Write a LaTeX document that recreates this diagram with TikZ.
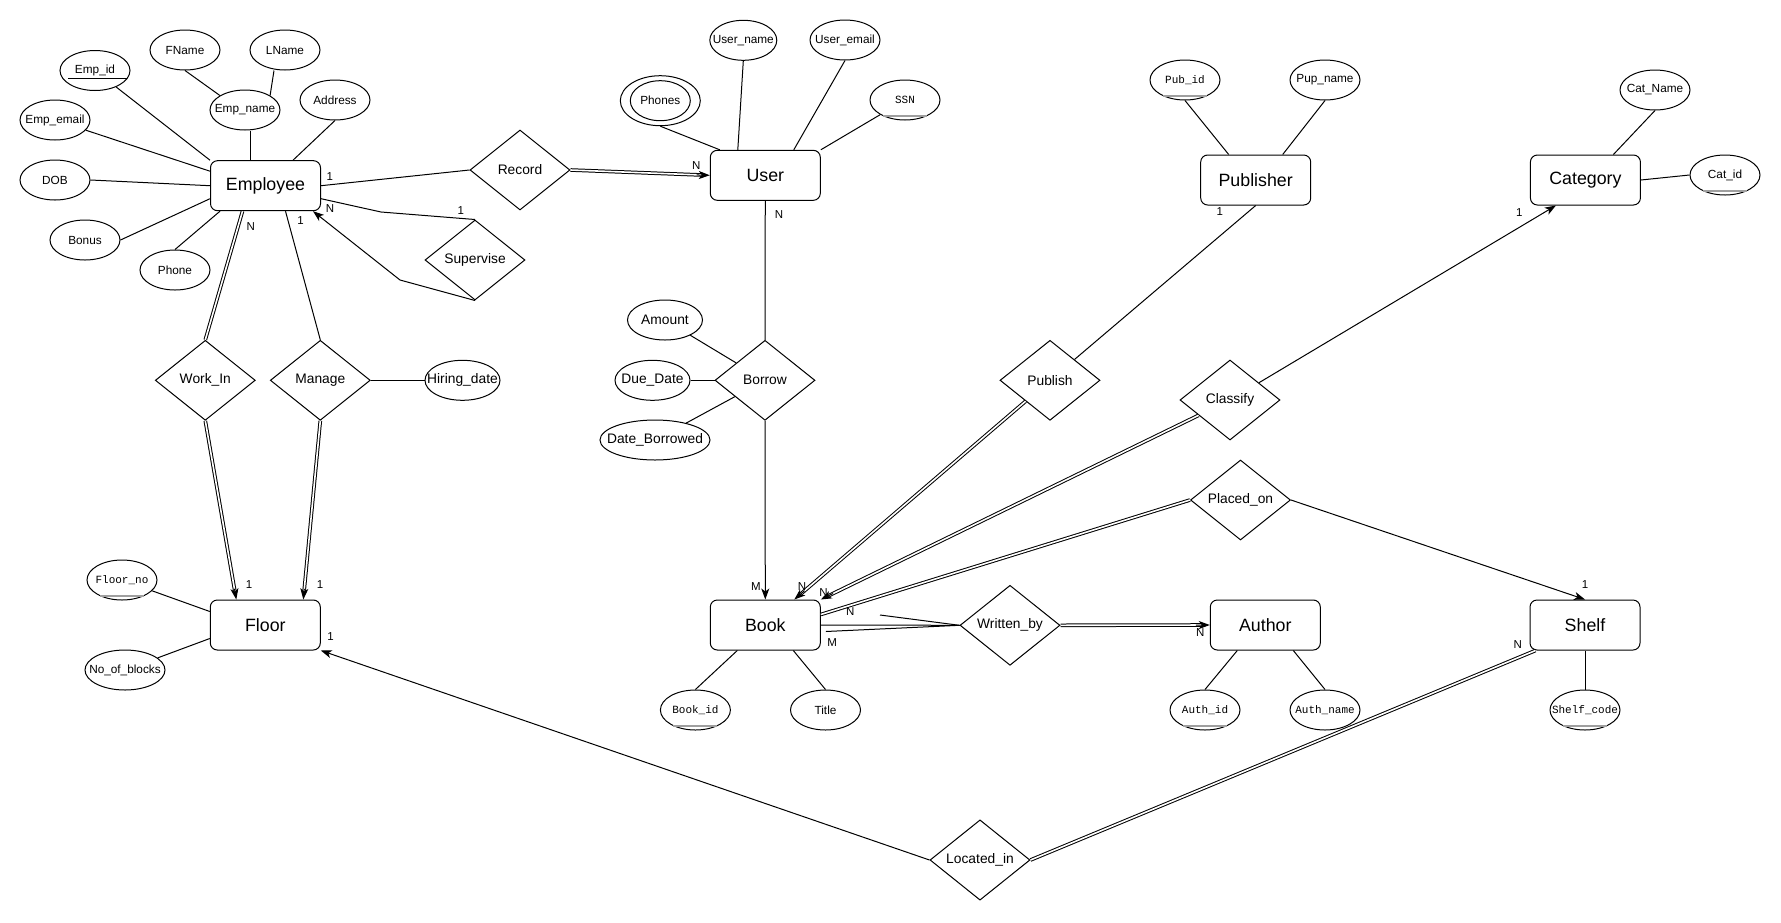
\documentclass[tikz,border=0pt]{standalone}
\usepackage{fontspec}
\setmainfont{Liberation Sans}
\setmonofont{Liberation Mono}
\usetikzlibrary{shapes.geometric, arrows.meta, calc}

\tikzstyle{entity} = [rectangle, rounded corners=7pt, minimum width=110pt, minimum height=50pt, text centered, draw=black, font=\fontsize{17.8}{20}\selectfont]
\tikzstyle{relation} = [diamond, minimum width=100pt, minimum height=80pt, inner sep=0pt, text centered, draw=black, font=\fontsize{13.8}{16}\selectfont]
\tikzstyle{attr} = [ellipse, minimum width=70pt, minimum height=40pt, inner sep=-10pt, text centered, draw=black, font=\fontsize{11.8}{14}\selectfont]
\tikzstyle{bigattr} = [attr, font=\fontsize{13.8}{16}\selectfont]
\tikzstyle{keyattr} = [attr, font=\fontsize{11}{13}\ttfamily]
\tikzstyle{keyline} = [draw=gray!75, line width=2pt]
\tikzstyle{card} = [inner sep=1pt, font=\fontsize{11.5}{13}\selectfont]
\tikzstyle{arrow} = [->, >={Stealth[length=11pt, width=8pt, inset=3pt]}]
\tikzstyle{dbl} = [double, double distance=1.6pt]
\tikzstyle{dblhead} = [dbl, shorten >=8pt]

\begin{document}
\begin{tikzpicture}[x=1pt, y=-1pt, line width=1pt]
\path[use as bounding box, fill=white] (0,0) rectangle (1781,922);

\node (emp) [entity] at (265.5,185.7) {Employee};
\node (user) [entity] at (765.3,175.3) {User};
\node (pub) [entity] at (1255.7,180) {Publisher};
\node (cat) [entity] at (1585.4,180) {Category};
\node (floor) [entity] at (265.3,625) {Floor};
\node (book) [entity] at (765.3,625) {Book};
\node (author) [entity] at (1265.3,625) {Author};
\node (shelf) [entity] at (1585,625) {Shelf};

\node (record) [relation] at (520,170) {Record};
\node (supervise) [relation] at (475,260) {Supervise};
\node (workin) [relation] at (205.3,380.3) {Work\_In};
\node (manage) [relation] at (320.3,380.3) {Manage};
\node (borrow) [relation] at (765,380.3) {Borrow};
\node (publish) [relation] at (1050,380.3) {Publish};
\node (classify) [relation] at (1230,400) {Classify};
\node (placed) [relation] at (1240.5,500) {Placed\_on};
\node (written) [relation] at (1010,625.3) {Written\_by};
\node (located) [relation] at (980,860) {Located\_in};

\node (empid) [attr] at (95,70.5) {Emp\_id};
\node (fname) [attr] at (185,50) {FName};
\node (lname) [attr] at (285,50) {LName};
\node (empname) [attr] at (245,110) {Emp\_name};
\node (address) [attr] at (335,100) {Address};
\node (empemail) [attr] at (55,120) {Emp\_email};
\node (dob) [attr] at (55,180) {DOB};
\node (bonus) [attr] at (85,240) {Bonus};
\node (phone) [attr] at (175,270) {Phone};
\node (hiring) [bigattr, minimum width=75pt] at (462.5,380.3) {Hiring\_date};
\node (floorno) [keyattr] at (122,580) {Floor\_no};
\node (blocks) [attr, minimum width=80pt] at (125,670) {No\_of\_blocks};

\node (phones) [attr, minimum width=80pt, minimum height=50pt] at (660.3,100.7) {Phones};
\node (username) [attr, minimum width=67pt] at (743.3,40.3) {User\_name};
\node (useremail) [attr] at (845,40) {User\_email};
\node (ssn) [keyattr] at (905,100) {SSN};
\node (amount) [bigattr, minimum width=75pt] at (665,320) {Amount};
\node (duedate) [bigattr, minimum width=75pt] at (652.5,380.3) {Due\_Date};
\node (dateb) [bigattr, minimum width=110pt] at (655,440) {Date\_Borrowed};

\node (bookid) [keyattr] at (695.4,710) {Book\_id};
\node (title) [attr] at (825.5,710) {Title};
\node (authid) [keyattr] at (1205,710) {Auth\_id};
\node (authname) [keyattr] at (1325,710) {Auth\_name};
\node (shelfcode) [keyattr] at (1585,710) {Shelf\_code};
\node (pubid) [keyattr] at (1185,80) {Pub\_id};
\node (pupname) [attr] at (1325,80) {Pup\_name};
\node (catname) [attr] at (1655,90) {Cat\_Name};
\node (catid) [attr] at (1725,175) {Cat\_id};

\draw (phones.center) ellipse [x radius=30pt, y radius=20pt];

\draw ([xshift=-27pt,yshift=-7.5pt]empid.center) -- ([xshift=32pt,yshift=-7.5pt]empid.center);
\draw [keyline] ([xshift=-22pt,yshift=5pt]ssn.south) -- ([xshift=22pt,yshift=5pt]ssn.south);
\draw [keyline] ([xshift=-22pt,yshift=5pt]pubid.south) -- ([xshift=22pt,yshift=5pt]pubid.south);
\draw [keyline] ([xshift=-22pt,yshift=5pt]catid.south) -- ([xshift=22pt,yshift=5pt]catid.south);
\draw [keyline] ([xshift=-22pt,yshift=5pt]bookid.south) -- ([xshift=22pt,yshift=5pt]bookid.south);
\draw [keyline] ([xshift=-22pt,yshift=5pt]authid.south) -- ([xshift=22pt,yshift=5pt]authid.south);
\draw [keyline] ([xshift=-22pt,yshift=5pt]shelfcode.south) -- ([xshift=22pt,yshift=5pt]shelfcode.south);
\draw [keyline] ([xshift=-22pt,yshift=5pt]floorno.south) -- ([xshift=22pt,yshift=5pt]floorno.south);

\draw (empid) -- (emp.north west);
\draw (fname.south) -- (empname.north west);
\draw ([xshift=-11pt]lname.south) -- (empname.north east);
\draw ([xshift=5pt]empname.south) -- ([xshift=5pt]empname.south |- emp.north);
\draw (address.south) -- ([xshift=-28pt]emp.north east);
\draw (empemail) -- ([yshift=-11pt]emp.north west);
\draw (dob.east) -- (emp.west);
\draw (bonus.east) -- ([yshift=-13pt]emp.west);
\draw (phone.north) -- ([xshift=10pt]emp.south west);

\draw (emp.east) -- node[card, pos=0.06, anchor=south, yshift=3pt] {1} (record.west);
\draw ([yshift=-13pt]emp.east) -- node[card, pos=0.15, anchor=north, yshift=-2pt] {N} (381,212) -- node[card, pos=0.85, anchor=south, yshift=2pt] {1} (supervise.north);
\draw [arrow] (supervise.south) -- (400,280) -- ([xshift=-8pt]emp.south east);
\draw [dbl] ([xshift=-23pt]emp.south) -- node[card, pos=0.12, right=7pt] {N} (workin.north);
\draw [dblhead] (workin.south) -- node[card, pos=1, anchor=south west, xshift=8pt, yshift=10pt] {1} ([xshift=-29pt]floor.north);
\draw [arrow] ($(workin.south)!0.94!([xshift=-29pt]floor.north)$) -- ([xshift=-29pt]floor.north);
\draw ([xshift=20pt]emp.south) -- node[card, pos=0.07, right=8pt] {1} (manage.north);
\draw [dblhead] (manage.south) -- node[card, pos=1, anchor=south west, xshift=12pt, yshift=10pt] {1} ([xshift=38pt]floor.north);
\draw [arrow] ($(manage.south)!0.94!([xshift=38pt]floor.north)$) -- ([xshift=38pt]floor.north);
\draw (manage.east) -- (hiring.west);
\draw (floorno) -- ([yshift=-12pt]floor.north west);
\draw (blocks) -- ([yshift=12pt]floor.south west);
\draw [arrow] (located.west) -- node[card, pos=1, anchor=west, xshift=5pt, yshift=14pt] {1} (floor.south east);

\draw [dblhead] (record.east) -- node[card, pos=1, anchor=south east, xshift=-8pt, yshift=4pt] {N} (user.west);
\draw [arrow] ($(record)!0.93!(user.west)$) -- (user.west);
\draw (phones.south) -- ([xshift=10pt]user.north west);
\draw (username.south) -- ([xshift=28pt]user.north west);
\draw (useremail.south) -- ([xshift=-27pt]user.north east);
\draw (ssn) -- (user.north east);
\draw (user) -- node[card, pos=0.1, right=8pt] {N} (borrow);

\draw (amount) -- (borrow);
\draw (duedate.east) -- (borrow.west);
\draw (dateb) -- (borrow);
\draw [arrow] (borrow.south) -- node[card, pos=1, anchor=south east, xshift=-3pt, yshift=8pt] {M} (book.north);
\draw (bookid.north) -- ([xshift=-28pt]book.south);
\draw (title.north) -- ([xshift=28pt]book.south);

\draw [dblhead] (publish) -- node[card, pos=1, anchor=south west, xshift=2pt, yshift=8pt] {N} ([xshift=29pt]book.north);
\draw [arrow] ($(publish)!0.96!([xshift=29pt]book.north)$) -- ([xshift=29pt]book.north);
\draw (publish) -- node[card, pos=0.96, left=24pt] {1} (pub.south);
\draw [dblhead] (classify) -- node[card, pos=1, anchor=south west, xshift=-3pt, yshift=2pt] {N} (book.north east);
\draw [arrow] ($(classify)!0.97!(book.north east)$) -- (book.north east);
\draw [arrow] (classify) -- node[card, pos=0.96, left=20pt] {1} ([xshift=26pt]cat.south west);
\draw [dbl] (placed.west) -- node[card, pos=0.92, below=1pt] {N} ([yshift=-15pt]book.north east);
\draw [arrow] (placed.east) -- node[card, pos=1, above=10pt] {1} (shelf.north);

\coordinate (wstub) at (880,615);
\draw (book.east) -- (written.west);
\draw ([xshift=5pt,yshift=-6.5pt]book.east) -- node[card, pos=0, anchor=north west, yshift=-6pt] {M} (written.west);
\draw (wstub) -- (written.west);
\draw [dblhead] (written.east) -- node[card, pos=1, anchor=north east, xshift=-4pt, yshift=-2pt] {N} (author.west);
\draw [arrow] ($(written)!0.93!(author.west)$) -- (author.west);
\draw [dbl] (located.east) -- node[card, pos=1, anchor=east, xshift=-12pt, yshift=6pt] {N} ([xshift=6pt]shelf.south west);

\draw (pubid.south) -- ([xshift=-27pt]pub.north);
\draw (pupname.south) -- ([xshift=27pt]pub.north);
\draw (catname.south) -- ([xshift=28pt]cat.north);
\draw (cat.east) -- (catid.west);
\draw (authid.north) -- ([xshift=-28pt]author.south);
\draw (authname.north) -- ([xshift=28pt]author.south);
\draw (shelfcode) -- (shelf);

\end{tikzpicture}
\end{document}
